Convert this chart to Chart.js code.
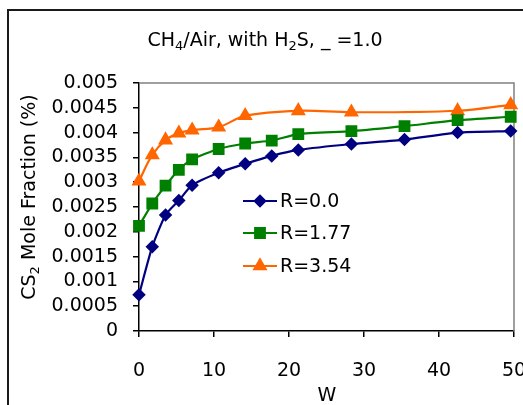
<!DOCTYPE html>
<html>
<head>
<meta charset="utf-8">
<script src="https://cdn.jsdelivr.net/npm/chart.js@4.4.0/dist/chart.umd.min.js"></script>
<style>
  html, body { margin: 0; padding: 0; background: #fff; overflow: hidden; }
</style>
</head>
<body>
<canvas id="chart" width="523" height="405"></canvas>
<script>
// W values (x axis)
const wValues = [0, 1.77, 3.54, 5.31, 7.08, 10.62, 14.16, 17.7, 21.24, 28.32, 35.4, 42.48, 49.56];
// CS2 mole fraction for each R
const r000 = [0.00073, 0.0017, 0.00234, 0.00263, 0.00294, 0.00319, 0.00337, 0.00353, 0.00365, 0.00377, 0.00386, 0.0040, 0.00403];
const r177 = [0.00212, 0.00257, 0.00293, 0.00325, 0.00346, 0.00367, 0.00378, 0.00384, 0.00397, 0.00403, 0.00413, 0.00425, 0.00432];
const r354 = [0.00302, 0.00355, 0.00385, 0.00399, 0.00405, 0.00411, 0.00434, null, 0.00444, 0.00441, null, 0.00444, 0.00456];
const seriesNames = ['R=0.0', 'R=1.77', 'R=3.54'];
const xTicks = [0, 10, 20, 30, 40, 50];
const yTicks = [0, 0.0005, 0.001, 0.0015, 0.002, 0.0025, 0.003, 0.0035, 0.004, 0.0045, 0.005];

const FONT = 'DejaVu Sans';
const FS = 19;

function pts(ys) {
    return wValues.map((w, i) => ({ x: w, y: ys[i] }));
}

// draw text with subscript pieces, centered at x
function drawParts(ctx, parts, x, y) {
    const sub = 13;
    let total = 0;
    parts.forEach(p => {
        ctx.font = (p[1] ? sub : FS) + 'px "' + FONT + '"';
        total += ctx.measureText(p[0]).width;
    });
    let cx = x - total / 2;
    ctx.textAlign = 'left';
    ctx.textBaseline = 'alphabetic';
    parts.forEach(p => {
        ctx.font = (p[1] ? sub : FS) + 'px "' + FONT + '"';
        ctx.fillText(p[0], cx, p[1] ? y + 4 : y);
        cx += ctx.measureText(p[0]).width;
    });
}

const framePlugin = {
    id: 'frame',
    beforeDatasetsDraw(chart) {
        const ctx = chart.ctx;
        const a = chart.chartArea;
        ctx.save();
        // outer chart border (extends past right/bottom)
        ctx.strokeStyle = '#1a1a1a';
        ctx.lineWidth = 2;
        ctx.beginPath();
        ctx.moveTo(8, 405);
        ctx.lineTo(8, 10);
        ctx.lineTo(523, 10);
        ctx.stroke();
        // plot area border, top and right
        ctx.strokeStyle = '#808080';
        ctx.lineWidth = 1.5;
        ctx.beginPath();
        ctx.moveTo(a.left, a.top);
        ctx.lineTo(a.right, a.top);
        ctx.lineTo(a.right, a.bottom);
        ctx.stroke();
        ctx.restore();
    },
    afterDraw(chart) {
        const ctx = chart.ctx;
        const a = chart.chartArea;
        ctx.save();
        ctx.fillStyle = '#000';
        // title
        drawParts(ctx, [['CH', 0], ['4', 1], ['/Air, with H', 0], ['2', 1], ['S, _ =1.0', 0]], 265, 46);
        // x title
        drawParts(ctx, [['W', 0]], 327, 401);
        // y title
        ctx.save();
        ctx.translate(35, 197);
        ctx.rotate(-Math.PI / 2);
        drawParts(ctx, [['CS', 0], ['2', 1], [' Mole Fraction (%)', 0]], 0, 0);
        ctx.restore();

        // legend inside plot
        const lx = a.left + 104;
        const rows = [a.top + 118, a.top + 150, a.top + 183];
        chart.data.datasets.forEach((ds, i) => {
            const y = rows[i];
            ctx.strokeStyle = ds.borderColor;
            ctx.lineWidth = ds.borderWidth;
            ctx.beginPath();
            ctx.moveTo(lx, y);
            ctx.lineTo(lx + 34, y);
            ctx.stroke();
            ctx.fillStyle = ds.backgroundColor;
            ctx.strokeStyle = ds.borderColor;
            Chart.helpers.drawPoint(ctx, {
                pointStyle: ds.pointStyle,
                radius: ds.pointRadius,
                rotation: 0,
                borderWidth: 1
            }, lx + 17, y);
            ctx.fillStyle = '#000';
            ctx.font = FS + 'px "' + FONT + '"';
            ctx.textAlign = 'left';
            ctx.textBaseline = 'middle';
            ctx.fillText(seriesNames[i], lx + 37, y + 1);
        });
        ctx.restore();
    }
};

const colors = ['#000080', '#008000', '#FF6600'];

new Chart(document.getElementById('chart'), {
    type: 'line',
    data: {
        datasets: [
            { label: seriesNames[0], data: pts(r000), borderColor: colors[0], backgroundColor: colors[0],
              borderWidth: 2.2, pointStyle: 'rectRot', pointRadius: 5.2, tension: 0.2 },
            { label: seriesNames[1], data: pts(r177), borderColor: colors[1], backgroundColor: colors[1],
              borderWidth: 2.2, pointStyle: 'rect', pointRadius: 6.8, tension: 0.2 },
            { label: seriesNames[2], data: pts(r354), borderColor: colors[2], backgroundColor: colors[2],
              borderWidth: 2.2, pointStyle: 'triangle', pointRadius: 6.5, tension: 0.35, spanGaps: true }
        ]
    },
    options: {
        responsive: false,
        animation: false,
        devicePixelRatio: 1,
        clip: false,
        layout: { padding: { top: 83, right: 7, left: 0, bottom: 0 } },
        plugins: {
            legend: { display: false },
            title: { display: false },
            tooltip: { enabled: false }
        },
        elements: { point: { borderWidth: 1 } },
        scales: {
            x: {
                type: 'linear',
                min: 0,
                max: 50,
                afterBuildTicks(s) { s.ticks = xTicks.map(v => ({ value: v })); },
                afterFit(s) { s.height = 74; s.paddingLeft = 0; s.paddingRight = 0; },
                ticks: { color: '#000', font: { family: FONT, size: FS }, padding: 23, maxRotation: 0, autoSkip: false },
                grid: { drawOnChartArea: false, tickLength: 6, color: '#000', lineWidth: 1.5 },
                border: { color: '#000', width: 1.5 }
            },
            y: {
                min: 0,
                max: 0.005,
                afterBuildTicks(s) { s.ticks = yTicks.map(v => ({ value: v })); },
                afterFit(s) { s.width = 139; s.paddingTop = 0; s.paddingBottom = 0; },
                ticks: {
                    color: '#000',
                    font: { family: FONT, size: FS },
                    padding: 15,
                    autoSkip: false,
                    callback: v => String(+Number(v).toFixed(4))
                },
                grid: { drawOnChartArea: false, tickLength: 6, color: '#000', lineWidth: 1.5 },
                border: { color: '#000', width: 1.5 }
            }
        }
    },
    plugins: [framePlugin]
});
</script>
</body>
</html>
